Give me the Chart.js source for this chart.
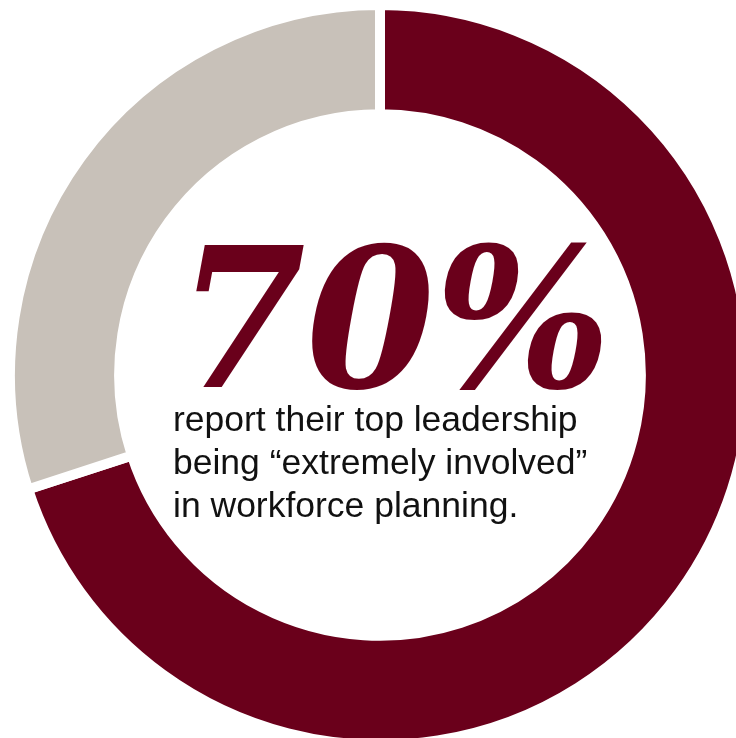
<!DOCTYPE html>
<html>
<head>
<meta charset="utf-8">
<script src="https://cdn.jsdelivr.net/npm/chart.js@4"></script>
<style>
  html, body { margin: 0; padding: 0; background: #fff; }
  #stage { position: relative; width: 736px; height: 738px; overflow: hidden; }
  #ring { position: absolute; left: 0; top: -5px; width: 760px; height: 760px; }
  #big {
    position: absolute; left: 177px; top: 222px;
    font-family: "DejaVu Serif", serif; font-weight: bold; font-style: italic;
    font-size: 194px; line-height: 194px; color: #6a001b;
    white-space: nowrap; transform-origin: 0 0;
  }
  #caption {
    position: absolute; left: 173px; top: 398px;
    font-family: "Liberation Sans", Arial, sans-serif;
    font-size: 35.5px; line-height: 43px; color: #111;
    white-space: nowrap;
  }
</style>
</head>
<body>
<div id="stage">
  <div id="ring"><canvas id="donut" width="760" height="760"></canvas></div>
  <div id="big">70%</div>
  <div id="caption">report their top leadership<br>being “extremely involved”<br>in workforce planning.</div>
</div>
<script>
  // share of respondents
  const labels = ['Extremely involved', 'Other'];
  const values = [70, 30];
  const colors = ['#6a001b', '#c8c1b9'];

  // squeeze the headline figure so it sits inside the hole
  const big = document.getElementById('big');
  const targetWidth = 434;
  const w = big.getBoundingClientRect().width;
  if (w > targetWidth) big.style.transform = 'scaleX(' + (targetWidth / w) + ')';

  const ctx = document.getElementById('donut').getContext('2d');
  new Chart(ctx, {
    type: 'doughnut',
    data: {
      labels: labels,
      datasets: [{
        data: values,
        backgroundColor: colors,
        borderColor: '#ffffff',
        borderWidth: 10,
        borderJoinStyle: 'miter',
        hoverOffset: 0
      }]
    },
    options: {
      responsive: false,
      animation: false,
      devicePixelRatio: 1,
      radius: 370,
      cutout: '70.5%',
      rotation: 0,
      layout: { padding: 0 },
      plugins: {
        legend: { display: false },
        tooltip: { enabled: false }
      }
    }
  });
</script>
</body>
</html>
